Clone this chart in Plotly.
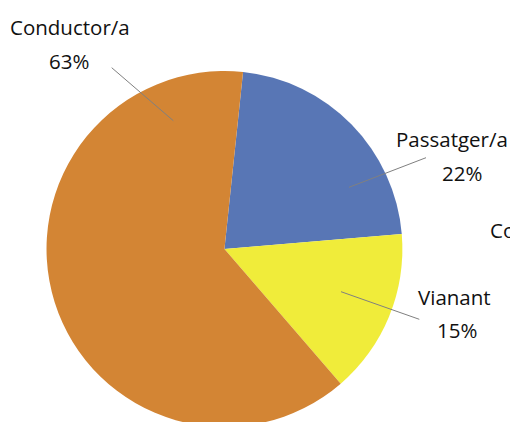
import plotly.graph_objects as go

# Data
categories = ["Passatger/a", "Vianant", "Conductor/a"]
values = [22, 15, 63]
colors = ["#5876B5", "#F0EC3A", "#D38534"]

W, H = 510, 432  # slightly taller than the window; bottom is cut like the reference

def px(x):
    return x / W

def py(y):
    return 1 - y / H

fig = go.Figure()
fig.add_trace(go.Pie(
    labels=categories,
    values=values,
    sort=False,
    direction="clockwise",
    rotation=6,
    marker=dict(colors=colors, line=dict(width=0)),
    textinfo="none",
    hoverinfo="label+percent",
    showlegend=False,
    domain=dict(x=[0.0912, 0.789], y=[0.0116, 0.8356]),
))

font = dict(family="Open Sans, Noto Sans, sans-serif", size=20.5, color="#111111")

# label texts: (text, center x px, center y px)
label_texts = [
    ("Conductor/a", 70, 27),
    ("63%", 69, 61),
    ("Passatger/a", 452, 139),
    ("22%", 462, 173),
    ("Vianant", 454, 297),
    ("15%", 457, 330),
]
for t, x, y in label_texts:
    fig.add_annotation(text=t, x=px(x), y=py(y), xref="paper", yref="paper",
                       xanchor="center", yanchor="middle", showarrow=False, font=font)

# clipped legend-like text at right edge
fig.add_annotation(text="Conductor/a", x=px(488), y=py(230), xref="paper", yref="paper",
                   xanchor="left", yanchor="middle", showarrow=False, font=font)

# leader lines
leaders = [
    ((111.7, 67.7), (173.3, 120.7)),
    ((426, 157.7), (349, 187.3)),
    ((341, 291.7), (419.3, 319.3)),
]
for (x0, y0), (x1, y1) in leaders:
    fig.add_shape(type="line", xref="paper", yref="paper",
                  x0=px(x0), y0=py(y0), x1=px(x1), y1=py(y1),
                  line=dict(color="#808080", width=1))

fig.update_layout(
    width=W, height=H,
    margin=dict(l=0, r=0, t=0, b=0),
    paper_bgcolor="white",
    plot_bgcolor="white",
)

fig.write_html("out.html", config={"displayModeBar": False},
               post_script="document.body.style.margin='0';document.body.style.overflow='hidden';")
